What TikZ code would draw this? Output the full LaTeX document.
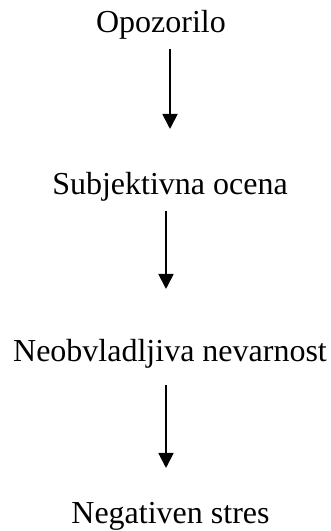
\documentclass[tikz,border=0pt]{standalone}
\usepackage{fontspec}
\setmainfont{Liberation Serif}
\usetikzlibrary{arrows.meta}
\begin{document}
\begin{tikzpicture}[x=1pt,y=1pt,
  lbl/.style={anchor=base,inner sep=0pt,font=\fontsize{32}{36}\selectfont},
  flow/.style={line width=1.8pt,-{Triangle[width=15pt,length=15pt]}}]
\useasboundingbox (0,0) rectangle (330,531);
\node[lbl] (o1) at (161,498) {Opozorilo};
\node[lbl] (o2) at (170,336) {Subjektivna ocena};
\node[lbl] (o3) at (170,169) {Neobvladljiva nevarnost};
\node[lbl] (o4) at (170.5,8) {Negativen stres};
\coordinate (a1s) at (170,482);
\coordinate (a1e) at (170,402);
\coordinate (a2s) at (166,320);
\coordinate (a2e) at (166,242);
\coordinate (a3s) at (166,146);
\coordinate (a3e) at (166,63);
\draw[flow] (a1s) -- (a1e);
\draw[flow] (a2s) -- (a2e);
\draw[flow] (a3s) -- (a3e);
\end{tikzpicture}
\end{document}
